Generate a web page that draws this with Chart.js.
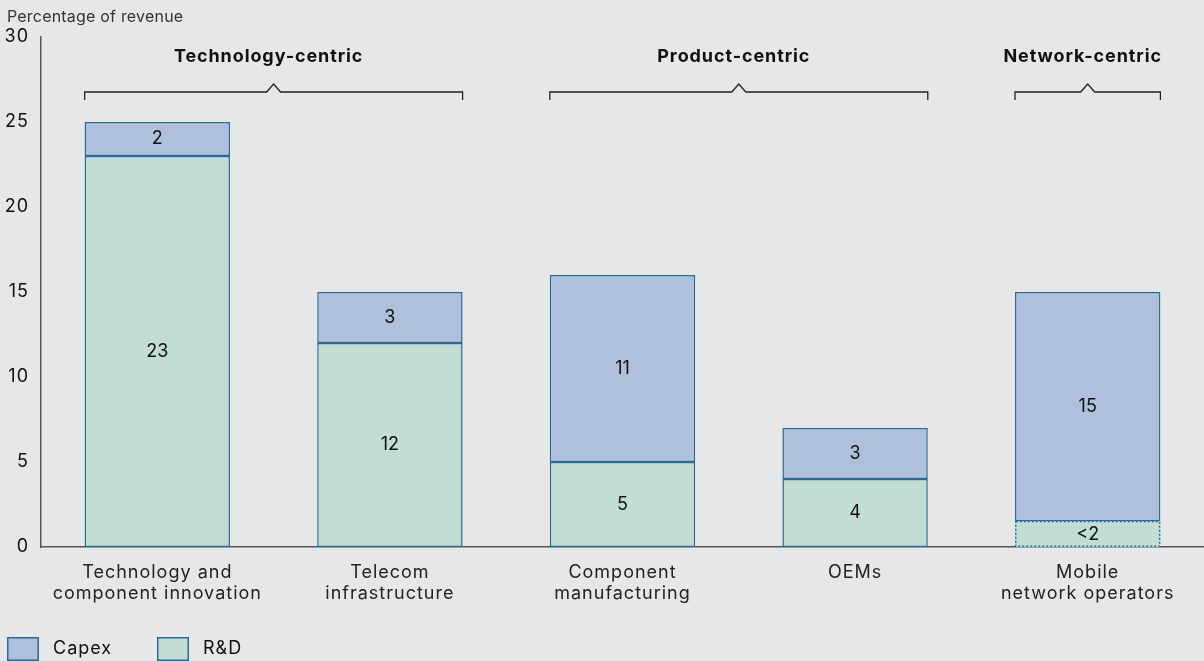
<!DOCTYPE html>
<html>
<head>
<meta charset="utf-8">
<script src="https://cdn.jsdelivr.net/npm/chart.js"></script>
<style>
  html, body { margin: 0; padding: 0; background: #e6e7e9; }
  #wrap { width: 1204px; height: 661px; }
</style>
</head>
<body>
<div id="wrap"><canvas id="barChart" width="1204" height="661"></canvas></div>
<script>
const categories = [
  ['Technology and', 'component innovation'],
  ['Telecom', 'infrastructure'],
  ['Component', 'manufacturing'],
  ['OEMs'],
  ['Mobile', 'network operators']
];
// segment heights as drawn (MNO capex stacks up to 15 total)
const rdValues = [23, 12, 5, 4, 1.5];
const capexValues = [2, 3, 11, 3, 13.5];
const rdLabels = ['23', '12', '5', '4', '<2'];
const capexLabels = ['2', '3', '11', '3', '15'];
const yTicks = [0, 5, 10, 15, 20, 25, 30];
const groupNames = ['Technology-centric', 'Product-centric', 'Network-centric'];
const groupFirst = [0, 2, 4];
const groupLast = [1, 3, 4];
const dashedRd = [false, false, false, false, true];

const FONT = "Inter, 'Open Sans', sans-serif";
const BORDER = '#2b6996';

const extras = {
  id: 'extras',
  beforeDraw(chart) {
    // the source typeface runs wider than Inter
    chart.ctx.letterSpacing = '1px';
  },
  afterDraw(chart) {
    const ctx = chart.ctx;
    const rdMeta = chart.getDatasetMeta(0);
    const capMeta = chart.getDatasetMeta(1);
    ctx.save();

    // unit title
    ctx.fillStyle = '#333';
    ctx.font = '16px ' + FONT;
    ctx.letterSpacing = '0.2px';
    ctx.textAlign = 'left';
    ctx.textBaseline = 'middle';
    ctx.fillText('Percentage of revenue', 7, 17);

    // dashed outline for the small R&D value
    rdMeta.data.forEach((el, i) => {
      if (!dashedRd[i]) return;
      const l = el.x - el.width / 2, r = el.x + el.width / 2;
      ctx.strokeStyle = BORDER;
      ctx.lineWidth = 1.5;
      ctx.setLineDash([2, 2]);
      ctx.strokeRect(l + 0.75, el.y, r - l - 1.5, el.base - el.y - 0.75);
      ctx.setLineDash([]);
    });

    // values inside segments
    ctx.fillStyle = '#111';
    ctx.font = '18px ' + FONT;
    ctx.letterSpacing = '0px';
    ctx.textAlign = 'center';
    rdMeta.data.forEach((el, i) => ctx.fillText(rdLabels[i], el.x, (el.y + el.base) / 2));
    capMeta.data.forEach((el, i) => ctx.fillText(capexLabels[i], el.x, (el.y + el.base) / 2));

    // group brackets
    ctx.letterSpacing = '0.9px';
    groupNames.forEach((name, g) => {
      const a = capMeta.data[groupFirst[g]], b = capMeta.data[groupLast[g]];
      const l = a.x - a.width / 2, r = b.x + b.width / 2, m = (l + r) / 2;
      ctx.strokeStyle = '#222';
      ctx.lineWidth = 1.3;
      ctx.beginPath();
      ctx.moveTo(l, 100);
      ctx.lineTo(l, 92);
      ctx.lineTo(m - 7, 92);
      ctx.lineTo(m, 84);
      ctx.lineTo(m + 7, 92);
      ctx.lineTo(r, 92);
      ctx.lineTo(r, 100);
      ctx.stroke();
      ctx.fillStyle = '#111';
      ctx.font = 'bold 18px ' + FONT;
      ctx.fillText(name, m - 5, 57);
    });

    // legend
    const items = [chart.data.datasets[1], chart.data.datasets[0]];
    const xs = [7, 157];
    ctx.textAlign = 'left';
    ctx.font = '18px ' + FONT;
    ctx.letterSpacing = '1px';
    items.forEach((ds, i) => {
      ctx.fillStyle = ds.backgroundColor;
      ctx.fillRect(xs[i], 637, 32, 24);
      ctx.strokeStyle = BORDER;
      ctx.lineWidth = 1.5;
      ctx.strokeRect(xs[i] + 0.75, 637.75, 30.5, 22.5);
      ctx.fillStyle = '#111';
      ctx.fillText(ds.label, xs[i] + 46, 649);
    });
    ctx.restore();
  }
};

new Chart(document.getElementById('barChart'), {
  type: 'bar',
  data: {
    labels: categories,
    datasets: [
      {
        label: 'R&D',
        data: rdValues,
        backgroundColor: '#c1ddd4',
        borderColor: BORDER,
        borderWidth: c => dashedRd[c.dataIndex] ? 0 : 1.5,
        borderSkipped: false,
        barPercentage: 0.625,
        categoryPercentage: 1
      },
      {
        label: 'Capex',
        data: capexValues,
        backgroundColor: '#aec0dc',
        borderColor: BORDER,
        borderWidth: 1.5,
        borderSkipped: false,
        barPercentage: 0.625,
        categoryPercentage: 1
      }
    ]
  },
  options: {
    responsive: false,
    animation: false,
    layout: { padding: { top: 37, right: 0, bottom: 54, left: 0 } },
    scales: {
      x: {
        stacked: true,
        grid: { display: false, drawTicks: false },
        border: { color: '#555', width: 1.5 },
        ticks: { color: '#222', font: { family: FONT, size: 18, lineHeight: 1.17 }, padding: 15, maxRotation: 0 },
        afterFit: s => { s.height = 60; }
      },
      y: {
        stacked: true,
        min: 0,
        max: 30,
        afterBuildTicks: s => { s.ticks = yTicks.map(v => ({ value: v })); },
        grid: { display: false, drawTicks: false },
        border: { color: '#555', width: 1.5 },
        ticks: { color: '#111', font: { family: FONT, size: 18 }, padding: 12 },
        afterFit: s => { s.width = 41; }
      }
    },
    plugins: { legend: { display: false }, tooltip: { enabled: false } }
  },
  plugins: [extras]
});
</script>
</body>
</html>
